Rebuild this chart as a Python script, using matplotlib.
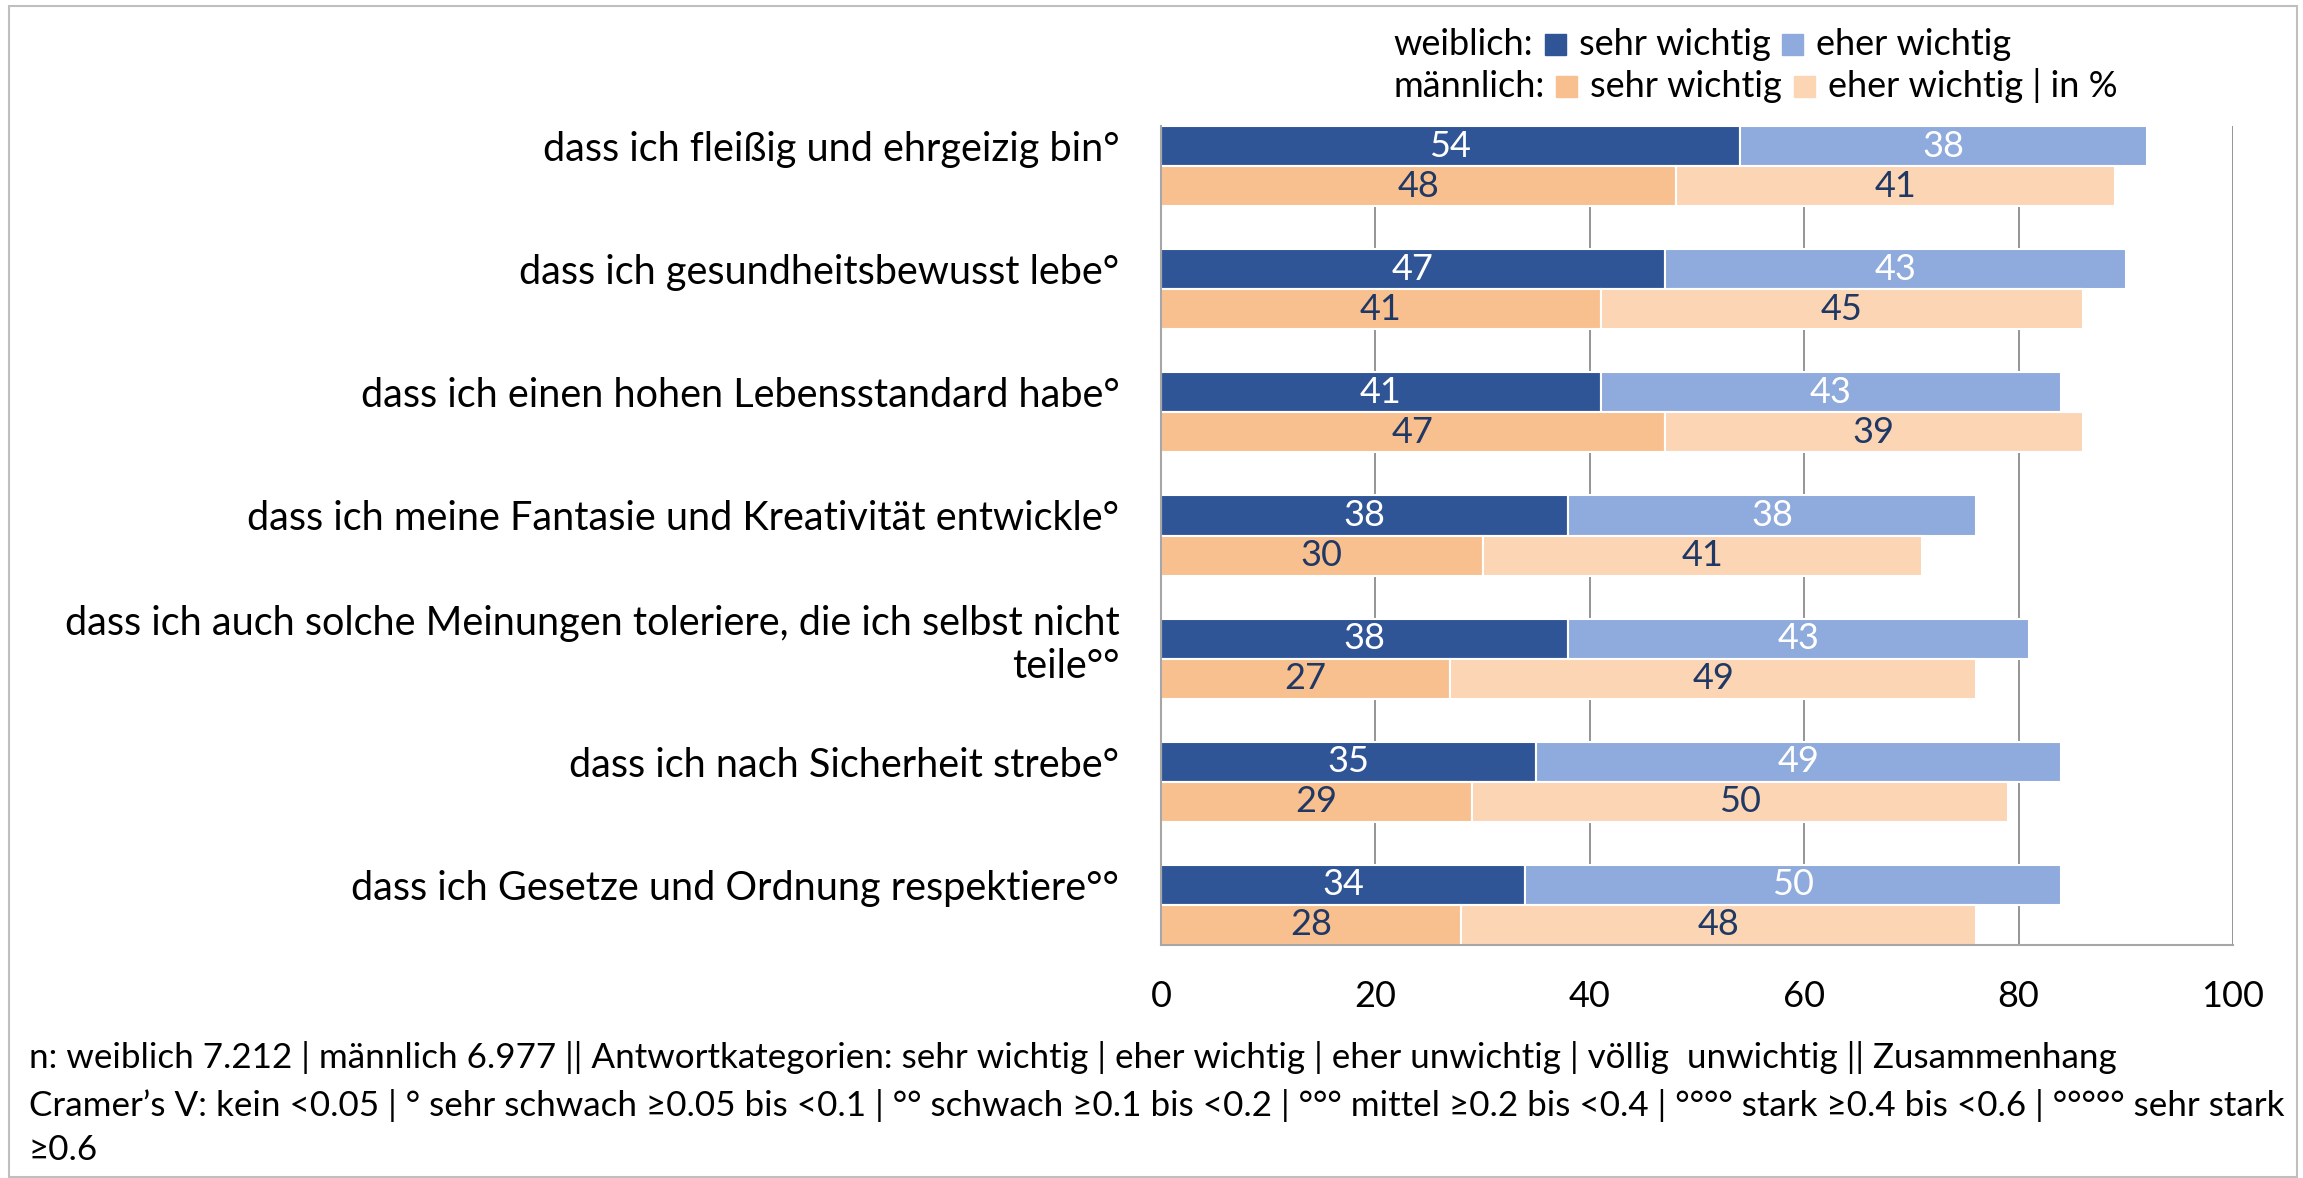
import numpy as np
import matplotlib
matplotlib.use("Agg")
from matplotlib import pyplot as plt
from matplotlib.patches import Rectangle

plt.rcParams['font.family'] = ['Lato', 'DejaVu Sans']

categories = [
    "dass ich fleißig und ehrgeizig bin°",
    "dass ich gesundheitsbewusst lebe°",
    "dass ich einen hohen Lebensstandard habe°",
    "dass ich meine Fantasie und Kreativität entwickle°",
    "dass ich auch solche Meinungen toleriere, die ich selbst nicht\nteile°°",
    "dass ich nach Sicherheit strebe°",
    "dass ich Gesetze und Ordnung respektiere°°",
]
w_sehr = [54, 47, 41, 38, 38, 35, 34]
w_eher = [38, 43, 43, 38, 43, 49, 50]
m_sehr = [48, 41, 47, 30, 27, 29, 28]
m_eher = [41, 45, 39, 41, 49, 50, 48]
x_ticks = [0, 20, 40, 60, 80, 100]

footer_lines = [
    "n: weiblich 7.212 | männlich 6.977 || Antwortkategorien: sehr wichtig | eher wichtig | "
    "eher unwichtig | völlig  unwichtig || Zusammenhang",
    "Cramer’s V: kein <0.05 | ° sehr schwach ≥0.05 bis <0.1 | °° schwach ≥0.1 bis <0.2 | "
    "°°° mittel ≥0.2 bis <0.4 | °°°° stark ≥0.4 bis <0.6 | °°°°° sehr stark",
    "≥0.6",
]

c_w_sehr = '#2F5597'
c_w_eher = '#8FAADC'
c_m_sehr = '#F9C08F'
c_m_eher = '#FCD5B5'
navy = '#203864'

W, H = 2303, 1178
fig = plt.figure(figsize=(W / 100, H / 100), dpi=100)
ax = fig.add_axes([1161 / W, 1 - 945 / H, (2233 - 1161) / W, (945 - 126) / H])

y = np.arange(len(categories))
h = 0.325
yw = y - h / 2
ym = y + h / 2

series = [
    (yw, w_sehr, 0, c_w_sehr, 'white'),
    (yw, w_eher, w_sehr, c_w_eher, 'white'),
    (ym, m_sehr, 0, c_m_sehr, navy),
    (ym, m_eher, m_sehr, c_m_eher, navy),
]
for pos, vals, left, col, tcol in series:
    b = ax.barh(pos, vals, height=h, left=left, color=col,
                edgecolor='white', linewidth=1.5, zorder=2)
    ax.bar_label(b, label_type='center', color=tcol, fontsize=26)

ax.set_xlim(0, 100)
ax.set_ylim(len(categories) - 1 + h, -h)
ax.set_xticks(x_ticks)
ax.set_yticks(yw)
ax.set_yticklabels(categories, fontsize=28.5, ha='right', multialignment='right')
ax.tick_params(axis='y', length=0, pad=30)
ax.tick_params(axis='x', length=0, pad=25, labelsize=26)

ax.set_axisbelow(True)
ax.grid(axis='x', color='#8C8C8C', linewidth=1.3)
ax.grid(axis='y', visible=False)
for s in ['top', 'right']:
    ax.spines[s].set_visible(False)
for s in ['left', 'bottom']:
    ax.spines[s].set_color('#A6A6A6')
    ax.spines[s].set_linewidth(1.5)

# legend built from text pieces and small squares
renderer = fig.canvas.get_renderer()


def legend_row(x, base, items):
    for item in items:
        if item.startswith('#'):
            fig.add_artist(Rectangle((x / W, 1 - base / H), 21 / W, 21 / H,
                                     transform=fig.transFigure, color=item))
            x = x + 21 + 13
        else:
            t = fig.text(x / W, 1 - base / H, item, fontsize=26, va='baseline')
            x = t.get_window_extent(renderer).x1 + 12


legend_row(1393, 55, ["weiblich:", c_w_sehr, "sehr wichtig", c_w_eher, "eher wichtig"])
legend_row(1393, 97, ["männlich:", c_m_sehr, "sehr wichtig", c_m_eher, "eher wichtig | in %"])

# footer notes
for line, ypos in zip(footer_lines, [1058, 1105, 1150]):
    fig.text(29 / W, 1 - ypos / H, line, fontsize=25.2, va='center')

# outer frame
fig.add_artist(Rectangle((9 / W, 1 / H), (2297 - 9) / W, (1172 - 1) / H,
                         transform=fig.transFigure, fill=False,
                         edgecolor='#BFBFBF', linewidth=1.5))

fig.savefig('out.png', dpi=100)
